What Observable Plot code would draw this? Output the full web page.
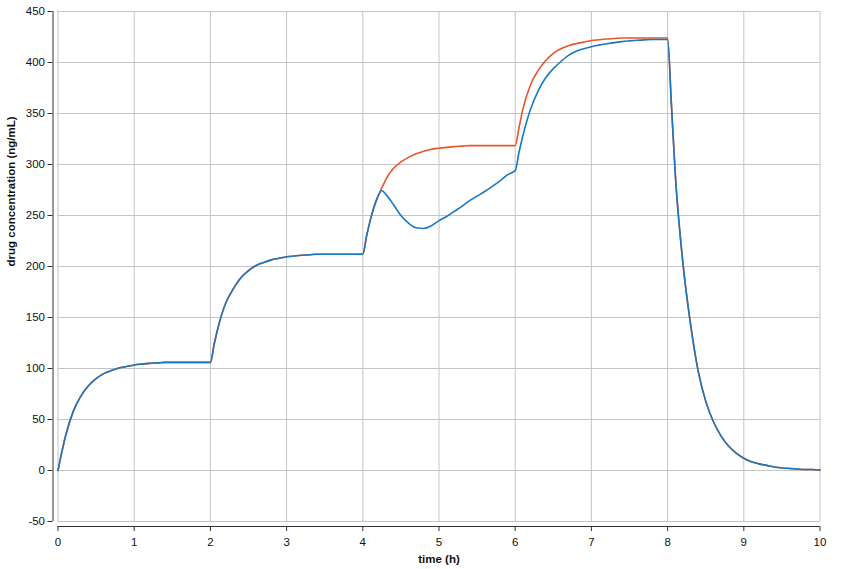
<!DOCTYPE html>
<html>
<head>
<meta charset="utf-8">
<script src="https://cdn.jsdelivr.net/npm/d3@7"></script>
<script src="https://cdn.jsdelivr.net/npm/@observablehq/plot@0.6"></script>
<style>
  html, body { margin: 0; padding: 0; background: #fff; }
  #chart { width: 844px; height: 569px; }
</style>
</head>
<body>
<div id="chart"></div>
<script>
const times = [0, 0.05, 0.1, 0.2, 0.3, 0.4, 0.5, 0.6, 0.7, 0.8, 0.9,
  1.0, 1.1, 1.2, 1.3, 1.4, 1.5, 1.6, 1.7, 1.8, 1.9,
  2.0, 2.05, 2.1, 2.2, 2.3, 2.4, 2.5, 2.6, 2.7, 2.8, 2.9,
  3.0, 3.1, 3.2, 3.3, 3.4, 3.5, 3.6, 3.7, 3.8, 3.9,
  4.0, 4.05, 4.1, 4.2, 4.25, 4.3, 4.4, 4.5, 4.6, 4.7, 4.8, 4.9,
  5.0, 5.1, 5.2, 5.3, 5.4, 5.5, 5.6, 5.7, 5.8, 5.9,
  6.0, 6.05, 6.1, 6.2, 6.3, 6.4, 6.5, 6.6, 6.7, 6.8, 6.9,
  7.0, 7.1, 7.2, 7.3, 7.4, 7.5, 7.6, 7.7, 7.8, 7.9,
  8.0, 8.05, 8.1, 8.2, 8.3, 8.4, 8.5, 8.6, 8.7, 8.8, 8.9,
  9.0, 9.1, 9.2, 9.3, 9.4, 9.5, 9.6, 9.7, 9.8, 9.9, 10.0];

// target (plasma) concentration - orange
const targetConc = [0, 18, 34, 58, 73, 83, 90, 95, 98, 100.5, 102,
  103.5, 104.3, 105, 105.5, 106, 106, 106, 106, 106, 106,
  106, 124, 140, 164, 178, 189, 196, 201, 204, 206.5, 208,
  209.5, 210.3, 211, 211.5, 212, 212, 212, 212, 212, 212,
  212, 230, 246, 269, 277, 285, 296, 302.5, 307, 310.5, 313, 315,
  316, 316.8, 317.5, 318, 318.5, 318.5, 318.5, 318.5, 318.5, 318.5,
  318.5, 336, 354, 378, 392, 402, 409, 413.5, 416.5, 418.5, 420,
  421.5, 422.3, 423, 423.5, 424, 424, 424, 424, 424, 424,
  424, 360, 292, 204, 144, 98, 68, 48, 34, 24, 17,
  12, 8.5, 6.5, 5, 3.5, 2.5, 2, 1.5, 1, 1, 0.5];

// effect-site concentration - blue
const effectConc = [0, 18, 34, 58, 73, 83, 90, 95, 98, 100.5, 102,
  103.5, 104.3, 105, 105.5, 106, 106, 106, 106, 106, 106,
  106, 124, 140, 164, 178, 189, 196, 201, 204, 206.5, 208,
  209.5, 210.3, 211, 211.5, 212, 212, 212, 212, 212, 212,
  212, 230, 246, 269, 274.5, 271, 261, 250, 242.5, 238, 237.3, 240,
  245, 249, 254, 259, 264.5, 269, 273.5, 278.5, 284, 290,
  294, 312, 328, 354, 372, 385, 394, 401, 407, 411, 413.5,
  415.5, 417, 418.3, 419.5, 420.5, 421.2, 421.8, 422.2, 422.5, 422.5,
  422.5, 358, 291, 204, 144, 98, 68, 48, 34, 24, 17,
  12, 8.5, 6.5, 5, 3.5, 2.5, 2, 1.5, 1, 1, 0.5];

const xTicks = [0, 1, 2, 3, 4, 5, 6, 7, 8, 9, 10];
const yTicks = [-50, 0, 50, 100, 150, 200, 250, 300, 350, 400, 450];
const xLabel = "time (h)";
const yLabel = "drug concentration (ng/mL)";

const rows = times.map((t, i) => ({t, target: targetConc[i], effect: effectConc[i]}));

const axisColor = "#333";
const gridColor = "#c4c4c4";
const fmt = d => String(d);

const chart = Plot.plot({
  width: 844,
  height: 569,
  marginLeft: 57.5,
  marginRight: 24.5,
  marginTop: 11,
  marginBottom: 48,
  style: {fontFamily: "'Liberation Sans', Arial, sans-serif", fontSize: "11px", color: axisColor, background: "#fff"},
  x: {domain: [xTicks[0], xTicks[xTicks.length - 1]], axis: null},
  y: {domain: [yTicks[0], yTicks[yTicks.length - 1]], axis: null},
  marks: [
    Plot.gridX(xTicks, {stroke: gridColor, strokeOpacity: 1}),
    Plot.gridY(yTicks, {stroke: gridColor, strokeOpacity: 1}),
    Plot.ruleX([xTicks[0]], {y1: yTicks[0], y2: yTicks[yTicks.length - 1], dx: -5, stroke: axisColor}),
    Plot.ruleY([yTicks[0]], {x1: xTicks[0], x2: xTicks[xTicks.length - 1], dy: 5, stroke: axisColor}),
    Plot.axisX(xTicks, {tickSize: 5, dy: 5, tickPadding: 6, label: null, tickFormat: fmt, fill: "#111", fontSize: 11.5}),
    Plot.axisY(yTicks, {tickSize: 5, dx: -5, tickPadding: 3, label: null, tickFormat: fmt, fill: "#111", fontSize: 11.5}),
    Plot.line(rows, {x: "t", y: "target", stroke: "#e8562a", strokeWidth: 1.6, curve: "monotone-x"}),
    Plot.line(rows, {x: "t", y: "effect", stroke: "#1a78c2", strokeWidth: 1.6, curve: "monotone-x"}),
    Plot.text([xLabel], {frameAnchor: "bottom", dy: 41, fontWeight: "bold", fill: "#111", fontSize: 11.5}),
    Plot.text([yLabel], {frameAnchor: "left", rotate: -90, dx: -47, fontWeight: "bold", fill: "#111", fontSize: 11.5})
  ]
});
document.getElementById("chart").appendChild(chart);
</script>
</body>
</html>
